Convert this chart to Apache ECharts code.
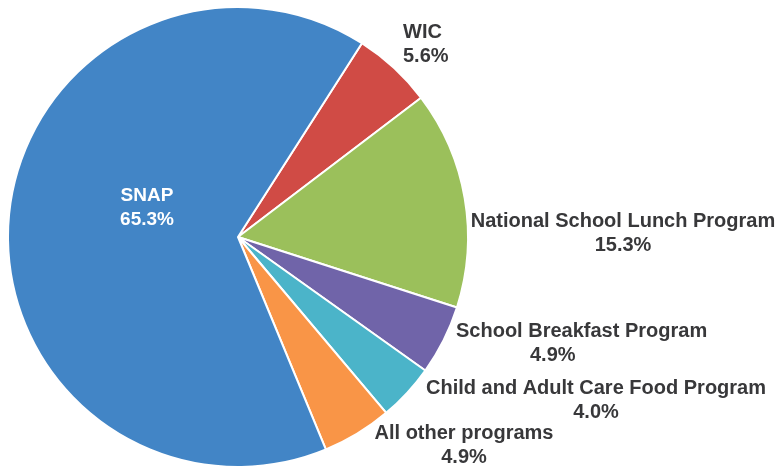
<!DOCTYPE html>
<html><head><meta charset="utf-8">
<script src="https://cdn.jsdelivr.net/npm/echarts@6/dist/echarts.min.js"></script>
<style>html,body{margin:0;padding:0;background:#fff}#c{width:780px;height:468px}</style>
</head><body><div id="c"></div>
<script>
const categories = ["WIC", "National School Lunch Program", "School Breakfast Program", "Child and Adult Care Food Program", "All other programs", "SNAP"];
const shares = [5.6, 15.3, 4.9, 4.0, 4.9, 65.3];
const colors = ["#D04B45", "#9BC05B", "#7064A9", "#4BB4C9", "#F99547", "#4285C6"];
// label anchor points (text block placement): [x, y, align, second-line indent]
const labelPos = [[403, 44, 'left', 0], [623, 233, 'center', 0], [456, 343, 'left', 74], [596, 400, 'center', 0], [464, 445, 'center', 0], [147, 208, 'center', 0]];

const chart = echarts.init(document.getElementById('c'), null, {renderer: 'canvas'});
const data = categories.map((c, i) => ({
  name: c, value: shares[i],
  itemStyle: {color: colors[i]},
  label: {
    align: labelPos[i][2],
    color: c === "SNAP" ? '#fff' : '#38383a',
    rich: {
      a: {fontSize: c === "SNAP" ? 19 : 20},
      b: {fontSize: c === "SNAP" ? 19 : 20, padding: [0, 0, 0, labelPos[i][3]]}
    }
  }
}));
chart.setOption({
  animation: false,
  series: [{
    type: 'pie',
    center: [238, 237],
    radius: [0, 230],
    startAngle: 57.4,
    clockwise: true,
    avoidLabelOverlap: false,
    data: data,
    itemStyle: {borderColor: '#fff', borderWidth: 2},
    label: {
      show: true, position: 'outside',
      formatter: p => '{a|' + p.name + '}\n{b|' + p.value.toFixed(1) + '%}',
      fontFamily: 'Liberation Sans, Arial, sans-serif',
      fontWeight: 'bold', fontSize: 20, lineHeight: 24
    },
    labelLine: {show: false},
    labelLayout: p => ({
      x: labelPos[p.dataIndex][0], y: labelPos[p.dataIndex][1],
      align: labelPos[p.dataIndex][2], verticalAlign: 'middle', hideOverlap: false
    })
  }]
});
</script></body></html>
